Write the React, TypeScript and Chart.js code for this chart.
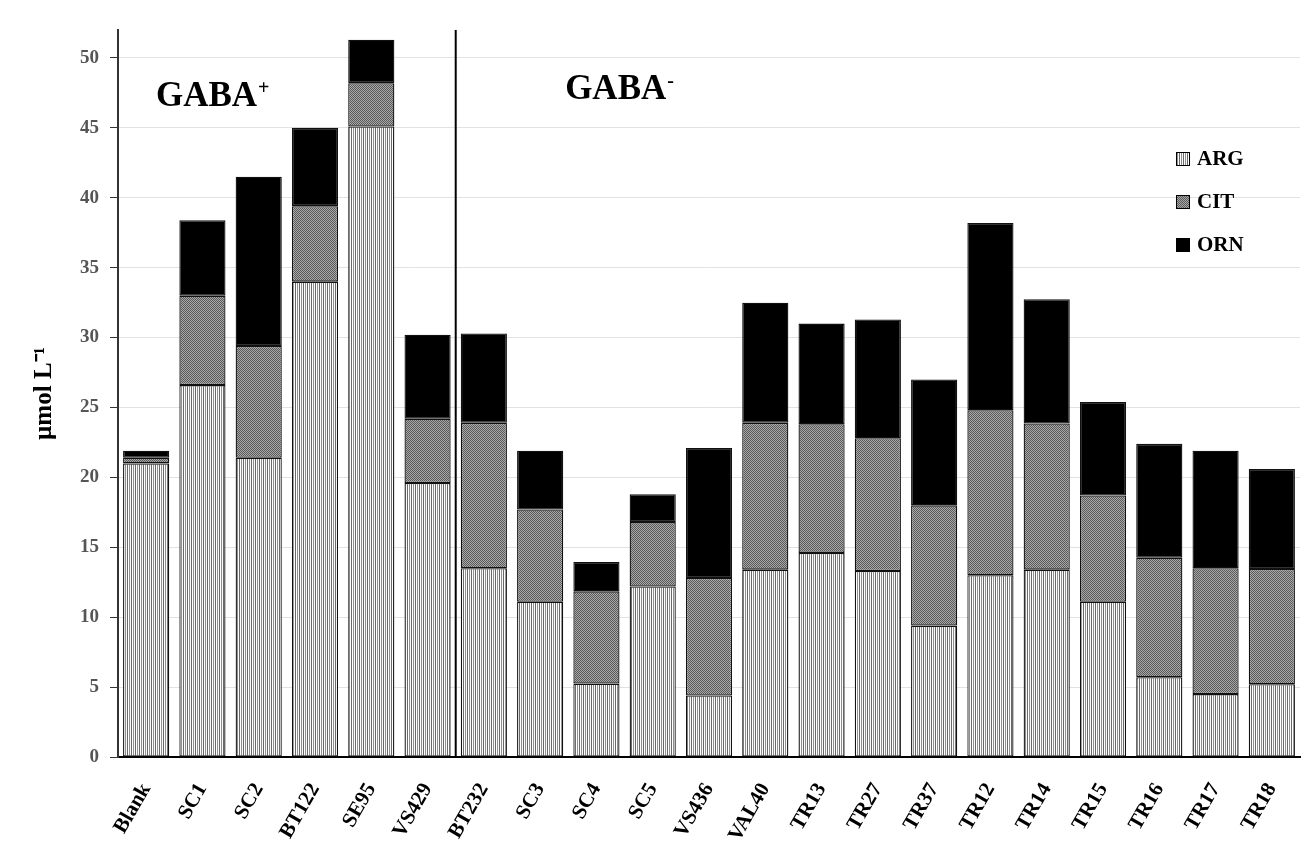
import React, { useEffect, useRef } from "react";
import { Chart, registerables } from "chart.js";

Chart.register(...registerables);

const categories = ["Blank", "SC1", "SC2", "BT122", "SE95", "VS429", "BT232", "SC3", "SC4", "SC5", "VS436", "VAL40", "TR13", "TR27", "TR37", "TR12", "TR14", "TR15", "TR16", "TR17", "TR18"];
const argValues = [21.0, 26.6, 21.4, 34.0, 45.1, 19.6, 13.5, 11.1, 5.25, 12.2, 4.4, 13.4, 14.6, 13.3, 9.4, 13.0, 13.4, 11.1, 5.7, 4.5, 5.2];
const citValues = [0.4, 6.4, 8.0, 5.4, 3.1, 4.6, 10.4, 6.6, 6.6, 4.6, 8.4, 10.5, 9.2, 9.5, 8.6, 11.8, 10.45, 7.6, 8.55, 9.0, 8.25];
const ornValues = [0.5, 5.4, 12.1, 5.6, 3.1, 6.0, 6.4, 4.2, 2.1, 2.0, 9.3, 8.6, 7.2, 8.5, 9.0, 13.4, 8.9, 6.7, 8.15, 8.4, 7.15];
const seriesNames = ["ARG", "CIT", "ORN"];
const groupNames = ["GABA", "GABA"];
const groupSigns = ["+", "-"];
const groupSplitIndex = 6; // first category of the second group
const yMin = 0;
const yMax = 52;
const yStep = 5;
const yTitle = "µmol L⁻¹";

const SERIF = "'Liberation Serif', 'Times New Roman', serif";

function makePattern(ctx: CanvasRenderingContext2D, kind: string): CanvasPattern | string {
  const c = document.createElement("canvas");
  const p = c.getContext("2d")!;
  if (kind === "stripes") {
    c.width = 4; c.height = 4;
    const cols = ["#ffffff", "#8f8f8f", "#fafafa", "#6a6a6a"];
    cols.forEach((col, i) => { p.fillStyle = col; p.fillRect(i, 0, 1, 4); });
  } else {
    c.width = 2; c.height = 2;
    p.fillStyle = "#a8a8a8"; p.fillRect(0, 0, 2, 2);
    p.fillStyle = "#5a5a5a"; p.fillRect(0, 0, 1, 1); p.fillRect(1, 1, 1, 1);
  }
  return ctx.createPattern(c, "repeat") || "#888";
}

export default function App() {
  const canvasRef = useRef<HTMLCanvasElement | null>(null);

  useEffect(() => {
    const canvas = canvasRef.current!;
    const ctx = canvas.getContext("2d")!;
    const fills = [makePattern(ctx, "stripes"), makePattern(ctx, "dots"), "#000000"];
    const values = [argValues, citValues, ornValues];

    const overlay = {
      id: "overlay",
      afterDatasetsDraw(chart: any) {
        const { ctx: c, chartArea: a, scales } = chart;
        const xs = scales.x;
        c.save();
        // separator line
        const sx = (xs.getPixelForValue(groupSplitIndex - 1) + xs.getPixelForValue(groupSplitIndex)) / 2;
        c.strokeStyle = "#000";
        c.lineWidth = 2;
        c.beginPath();
        c.moveTo(sx, a.top);
        c.lineTo(sx, a.bottom);
        c.stroke();
        // group labels
        const gx = [a.left + 38, xs.getPixelForValue(groupSplitIndex + 1) + 25];
        const gy = [a.top + 76, a.top + 69];
        groupNames.forEach((g, i) => {
          c.fillStyle = "#000";
          c.textBaseline = "alphabetic";
          c.textAlign = "left";
          c.font = `bold 35px ${SERIF}`;
          c.fillText(g, gx[i], gy[i]);
          const w = c.measureText(g).width;
          c.font = `bold 20px ${SERIF}`;
          c.fillText(groupSigns[i], gx[i] + w + 1, gy[i] - 12);
        });
        // legend
        const lx = a.right - 124;
        const ly = [a.top + 129, a.top + 172, a.top + 215];
        seriesNames.forEach((n, i) => {
          c.fillStyle = fills[i] as any;
          c.fillRect(lx, ly[i] - 7, 14, 14);
          c.strokeStyle = "#000";
          c.lineWidth = 1;
          c.strokeRect(lx + 0.5, ly[i] - 6.5, 13, 13);
          c.fillStyle = "#000";
          c.font = `bold 21px ${SERIF}`;
          c.textBaseline = "middle";
          c.textAlign = "left";
          c.fillText(n, lx + 21, ly[i] + 1);
        });
        c.restore();
      },
    };

    const chart = new Chart(canvas, {
      type: "bar",
      data: {
        labels: categories,
        datasets: seriesNames.map((n, i) => ({
          label: n,
          data: values[i],
          backgroundColor: fills[i] as any,
          borderColor: "#111",
          borderWidth: 1.3,
          borderSkipped: false,
          categoryPercentage: 1,
          barPercentage: 0.82,
        })),
      },
      options: {
        animation: false,
        responsive: true,
        maintainAspectRatio: false,
        layout: { padding: { left: 8, top: 30, right: 10, bottom: 0 } },
        plugins: { legend: { display: false }, tooltip: { enabled: false } },
        scales: {
          x: {
            stacked: true,
            grid: { display: false },
            border: { display: true, color: "#000", width: 2 },
            ticks: {
              color: "#000",
              font: { family: SERIF, size: 21, weight: "bold" },
              maxRotation: 60,
              minRotation: 60,
              padding: 14,
              autoSkip: false,
            },
            afterFit: (s: any) => { s.height = 99; },
          },
          y: {
            stacked: true,
            min: yMin,
            max: yMax,
            grid: { color: "#e2e2e2", lineWidth: 1, tickColor: "#333", tickLength: 8 },
            border: { display: true, color: "#333", width: 2 },
            ticks: {
              stepSize: yStep,
              includeBounds: false,
              color: "#555",
              font: { family: SERIF, size: 19, weight: "bold" },
              padding: 11,
            },
            title: {
              display: true,
              text: yTitle,
              color: "#000",
              font: { family: SERIF, size: 25, weight: "bold" },
              padding: { top: 22, bottom: 0 },
            },
            afterFit: (s: any) => { s.width = 110; },
          },
        },
      },
      plugins: [overlay],
    } as any);
    return () => chart.destroy();
  }, []);

  return (
    <div style={{ position: "fixed", left: 0, top: 0, width: 1310, height: 856, background: "#fff" }}>
      <canvas ref={canvasRef} />
    </div>
  );
}
